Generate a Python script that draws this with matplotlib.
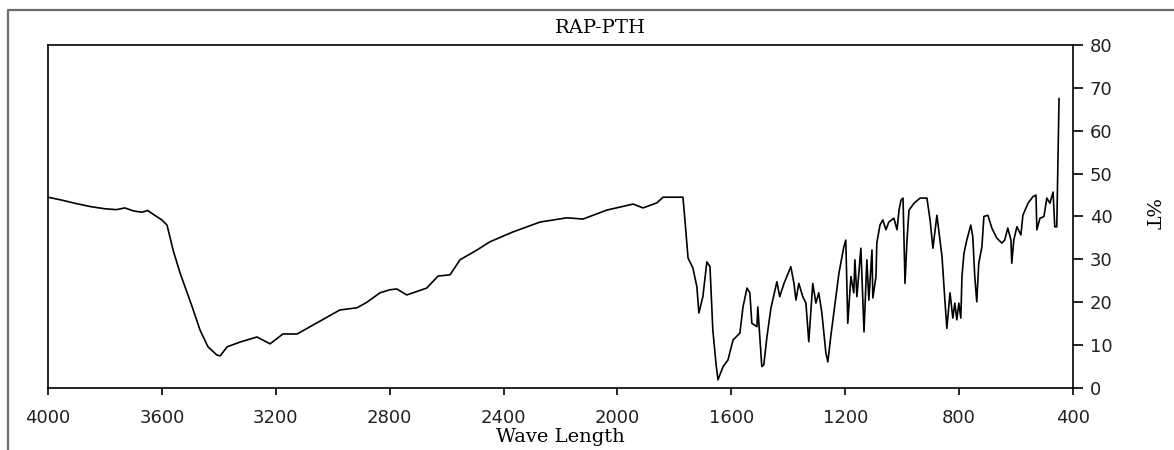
import matplotlib
matplotlib.use("Agg")
import matplotlib.pyplot as plt
from matplotlib.lines import Line2D

# wavenumber (cm-1), high to low
wavenumber = [
    4000, 3950, 3900, 3850, 3800, 3760, 3730, 3700, 3670, 3650, 3630, 3600,
    3582, 3560, 3536, 3494, 3466, 3438, 3407, 3395, 3371, 3326, 3266, 3220,
    3175, 3125, 3055, 2975, 2915, 2880, 2834, 2800, 2775, 2740, 2670, 2630,
    2588, 2553, 2493, 2448, 2367, 2272, 2177, 2121, 2037, 1945, 1910, 1861,
    1840, 1770, 1763, 1752, 1735, 1721, 1714, 1700, 1686, 1675, 1665, 1654,
    1647, 1629, 1612, 1594, 1570, 1559, 1545, 1535, 1528, 1510, 1507, 1500,
    1493, 1486, 1475, 1461, 1440, 1430, 1415, 1391, 1380, 1373, 1363, 1349,
    1338, 1328, 1314, 1303, 1293, 1282, 1268, 1261, 1251, 1240, 1222, 1205,
    1198, 1191, 1180, 1170, 1166, 1159, 1145, 1134, 1124, 1117, 1106, 1103,
    1092, 1089, 1078, 1068, 1057, 1047, 1029, 1018, 1011, 1004, 997, 990,
    983, 976, 958, 937, 913, 902, 892, 878, 860, 850, 843, 832,
    822, 815, 808, 801, 794, 790, 783, 773, 759, 752, 745, 738,
    731, 720, 713, 699, 685, 668, 650, 640, 629, 618, 615, 608,
    597, 583, 576, 558, 541, 530, 527, 516, 502, 492, 481, 470,
    464, 457, 453, 449,
]
# transmittance %T
transmittance = [
    44.5, 43.8, 43.0, 42.3, 41.8, 41.6, 42.0, 41.3, 41.0, 41.4, 40.5, 39.2,
    38.0, 32.0, 26.8, 19.0, 13.5, 9.6, 7.7, 7.5, 9.6, 10.7, 11.9, 10.3,
    12.6, 12.6, 15.2, 18.2, 18.7, 20.0, 22.2, 22.9, 23.1, 21.7, 23.3, 26.1,
    26.4, 29.9, 32.2, 34.1, 36.4, 38.7, 39.7, 39.4, 41.5, 42.9, 42.0, 43.2,
    44.5, 44.5, 39.2, 30.3, 28.0, 23.6, 17.5, 21.3, 29.4, 28.3, 13.5, 5.8,
    1.9, 5.0, 6.5, 11.2, 12.8, 18.9, 23.3, 22.2, 15.1, 14.3, 18.9, 11.9,
    5.0, 5.4, 11.9, 18.6, 24.8, 21.3, 24.4, 28.3, 24.4, 20.5, 24.4, 21.3,
    19.8, 10.8, 24.4, 19.8, 22.2, 17.5, 8.2, 6.1, 11.9, 17.5, 26.8, 32.9,
    34.5, 15.1, 26.0, 22.2, 29.9, 21.3, 32.6, 13.1, 29.9, 20.5, 32.2, 21.0,
    26.0, 33.8, 38.0, 39.2, 36.9, 38.7, 39.6, 36.9, 41.5, 43.8, 44.3, 24.4,
    34.5, 41.5, 43.1, 44.3, 44.3, 39.2, 32.6, 40.3, 30.6, 20.5, 13.9, 22.2,
    16.3, 19.8, 15.9, 19.8, 16.3, 26.0, 31.4, 34.5, 38.0, 35.3, 26.0, 20.1,
    29.1, 32.9, 40.0, 40.3, 37.3, 35.0, 33.8, 34.5, 37.3, 34.5, 29.1, 34.5,
    37.6, 35.7, 40.3, 43.1, 44.6, 45.0, 36.9, 39.6, 40.0, 44.3, 43.1, 45.7,
    37.6, 37.6, 53.0, 67.5,
]
x_ticks = [4000, 3600, 3200, 2800, 2400, 2000, 1600, 1200, 800, 400]
y_ticks = [0, 10, 20, 30, 40, 50, 60, 70, 80]

W, H = 1174, 450
fig = plt.figure(figsize=(W / 100, H / 100), dpi=100)

# grey outer frame: only its top and left edges fall inside the picture
fx, fy = 8 / W, 1 - 10 / H
fig.add_artist(Line2D([fx, fx, 1.02], [-0.02, fy, fy], transform=fig.transFigure,
                      color="#6b6b6b", linewidth=1.6))

ax = fig.add_axes([48 / W, 1 - 388 / H, (1073 - 48) / W, (388 - 45) / H])
ax.plot(wavenumber, transmittance, color="black", linewidth=1.2)

ax.set_xlim(4000, 400)
ax.set_ylim(0, 80)
ax.set_xticks(x_ticks)
ax.set_yticks(y_ticks)
ax.yaxis.tick_right()
ax.tick_params(axis="x", direction="out", length=5, width=1.2, pad=10,
               labelsize=13, labelcolor="#222222")
ax.tick_params(axis="y", direction="out", length=7, width=1.2, pad=5,
               labelsize=13, labelcolor="#222222")
for s in ax.spines.values():
    s.set_linewidth(1.2)

ax.set_xlabel("Wave Length", family="DejaVu Serif", fontsize=14, labelpad=1)
fig.text(1150 / W, 1 - 215 / H, "%T", family="DejaVu Serif", fontsize=14,
         rotation=270, ha="center", va="center")
fig.text(600 / W, 1 - 28 / H, "RAP-PTH", family="DejaVu Serif", fontsize=14,
         ha="center", va="center")

fig.savefig("out.png", dpi=100)
